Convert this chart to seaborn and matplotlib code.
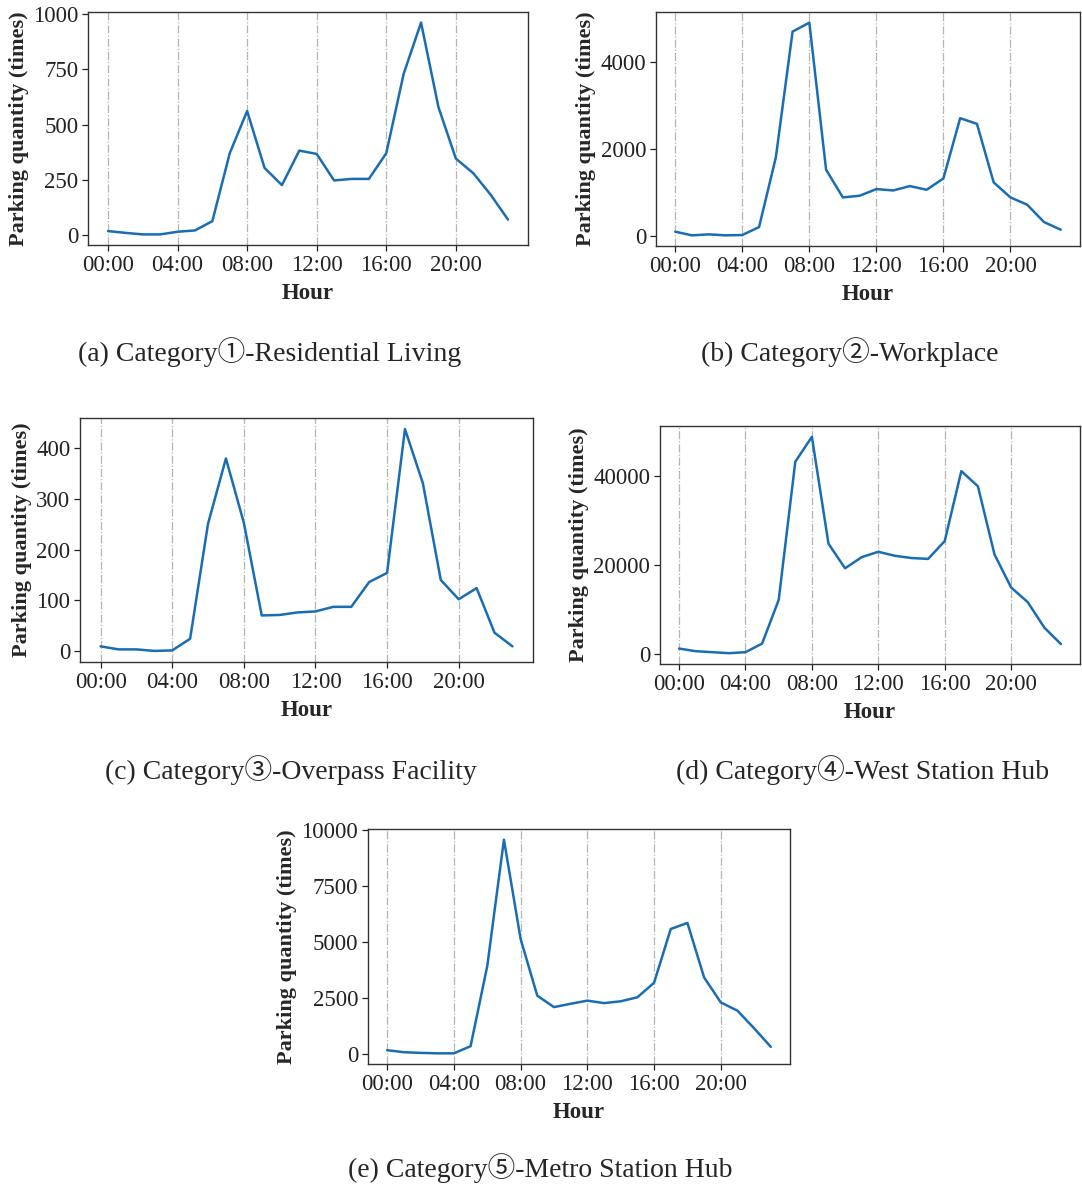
import numpy as np
import pandas as pd
import matplotlib
matplotlib.use("Agg")
import matplotlib.pyplot as plt
import seaborn as sns

hours = list(range(24))
tick_hours = [0, 4, 8, 12, 16, 20]
tick_labels = ["00:00", "04:00", "08:00", "12:00", "16:00", "20:00"]

residential = [18, 10, 3, 3, 15, 21, 63, 370, 561, 304, 226, 382, 367, 247, 254, 254,
               370, 729, 961, 579, 346, 280, 183, 70]
workplace = [107, 23, 46, 23, 31, 214, 1813, 4704, 4910, 1530, 895, 933, 1086, 1055, 1155, 1071,
             1331, 2715, 2585, 1239, 895, 727, 329, 153]
overpass = [9, 3, 3, 0, 1, 24, 251, 380, 253, 70, 71, 76, 78, 87, 87, 136,
            154, 438, 331, 140, 102, 124, 36, 9]
west_station = [1187, 594, 371, 148, 371, 2300, 12100, 43100, 48700, 24700, 19200, 21700, 22900,
                22000, 21500, 21300, 25300, 41000, 37600, 22300, 14900, 11600, 5900, 2200]
metro = [150, 60, 30, 10, 10, 330, 3920, 9580, 5130, 2590, 2080, 2230, 2370, 2260, 2340, 2520,
         3170, 5580, 5850, 3410, 2290, 1920, 1130, 300]

yticks_a = [0, 250, 500, 750, 1000]
yticks_b = [0, 2000, 4000]
yticks_c = [0, 100, 200, 300, 400]
yticks_d = [0, 20000, 40000]
yticks_e = [0, 2500, 5000, 7500, 10000]

captions = ["(a) Category\u2460-Residential Living", "(b) Category\u2461-Workplace",
            "(c) Category\u2462-Overpass Facility", "(d) Category\u2463-West Station Hub",
            "(e) Category\u2464-Metro Station Hub"]
series = [residential, workplace, overpass, west_station, metro]
yticks_all = [yticks_a, yticks_b, yticks_c, yticks_d, yticks_e]

sns.set_theme(style="ticks")
plt.rcParams['font.family'] = ['Liberation Serif', 'Noto Sans CJK SC', 'DejaVu Sans']
plt.rcParams['axes.edgecolor'] = '#333333'
plt.rcParams['axes.linewidth'] = 1.0

W, H = 1082, 1187
fig = plt.figure(figsize=(W / 100, H / 100), dpi=100)

# axes boxes in pixels: left, top, right, bottom
boxes = [(88, 12, 528, 245), (656, 12, 1080, 246), (80, 418, 533, 662),
         (660, 426, 1080, 664), (368, 829, 790, 1064)]
cap_pos = [(270, 352), (850, 352), (291, 770), (863, 770), (540, 1168)]

for vals, yt, box, cap, cp in zip(series, yticks_all, boxes, captions, cap_pos):
    l, t, r, b = box
    ax = fig.add_axes([l / W, 1 - b / H, (r - l) / W, (b - t) / H])
    df = pd.DataFrame({"Hour": hours, "Parking": vals})
    for th in tick_hours:
        ax.axvline(th, color='#b5b5b5', linestyle='-.', linewidth=0.9, zorder=0)
    sns.lineplot(data=df, x="Hour", y="Parking", ax=ax, color='#1a6db3', linewidth=1.8)
    ax.set_xticks(tick_hours)
    ax.set_xticklabels(tick_labels)
    ax.set_yticks(yt)
    ax.tick_params(axis='both', labelsize=16.5, colors='#222222', length=4, width=0.9, pad=3)
    ax.set_xlabel("Hour", fontsize=16.5, fontweight='bold', labelpad=5)
    ax.set_ylabel("Parking quantity (times)", fontsize=16, fontweight='bold', labelpad=3)
    ax.margins(x=0.05, y=0.05)
    fig.text(cp[0] / W, 1 - cp[1] / H, cap, ha='center', va='center', fontsize=20,
             family=['Liberation Serif', 'Noto Sans CJK SC', 'DejaVu Sans'])

fig.savefig("out.png", dpi=100)
